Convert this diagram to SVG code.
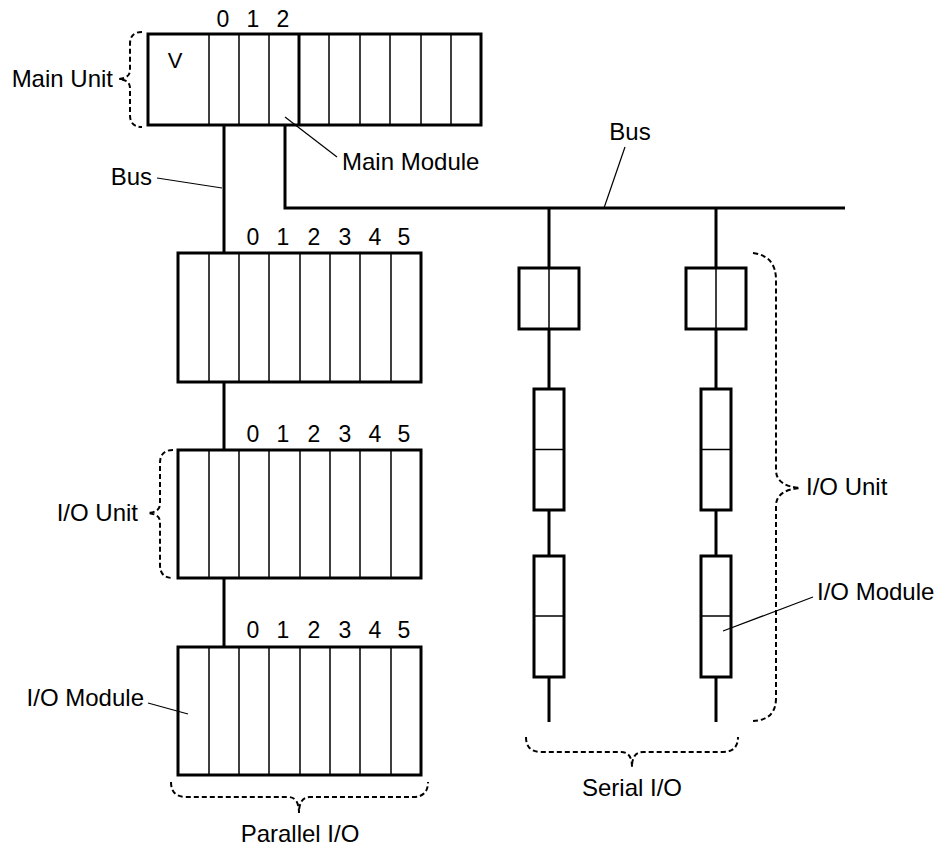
<svg xmlns="http://www.w3.org/2000/svg" width="941" height="850" viewBox="0 0 941 850">
<style>
.box{fill:#fff;stroke:#000;stroke-width:3}
.div{stroke:#000;stroke-width:1.5;fill:none}
.bus{stroke:#000;stroke-width:3;fill:none}
.lead{stroke:#000;stroke-width:1.2;fill:none}
.brace{stroke:#000;stroke-width:2;fill:none;stroke-dasharray:5,3}
text{font-family:"Liberation Sans",Arial,sans-serif;fill:#000}
.lbl{font-size:24px}
.num{font-size:23px;text-anchor:middle}
</style>
<rect width="941" height="850" fill="#fff"/>
<g id="connectors">
<path class="bus" d="M224,125 V253 M224,382 V450 M224,578 V647"/>
<path class="bus" d="M285,125 V208 H845"/>
<path class="bus" d="M549,208 V268 M549,329 V389 M549,510 V556 M549,677 V722"/>
<path class="bus" d="M716,208 V268 M716,329 V389 M716,510 V556 M716,677 V722"/>
</g>
<g id="main-unit">
<rect class="box" x="148" y="34" width="333" height="91"/>
<path class="div" d="M209,34V125M239,34V125M269,34V125M329,34V125M360,34V125M390,34V125M421,34V125M451,34V125"/>
<path class="bus" d="M299,34V125"/>
<text x="175" y="68" style="font-size:22px" text-anchor="middle">V</text>
<text class="num" x="223" y="27">0</text>
<text class="num" x="253" y="27">1</text>
<text class="num" x="283" y="27">2</text>
</g>
<g id="io-unit-1">
<rect class="box" x="178" y="253" width="243" height="129"/>
<path class="div" d="M209,253V382M239,253V382M269,253V382M300,253V382M330,253V382M360,253V382M391,253V382"/>
<text class="num" x="253" y="245">0</text><text class="num" x="283" y="245">1</text><text class="num" x="314" y="245">2</text><text class="num" x="345" y="245">3</text><text class="num" x="375" y="245">4</text><text class="num" x="404" y="245">5</text>
</g>
<g id="io-unit-2">
<rect class="box" x="178" y="450" width="243" height="128"/>
<path class="div" d="M209,450V578M239,450V578M269,450V578M300,450V578M330,450V578M360,450V578M391,450V578"/>
<text class="num" x="253" y="442">0</text><text class="num" x="283" y="442">1</text><text class="num" x="314" y="442">2</text><text class="num" x="345" y="442">3</text><text class="num" x="375" y="442">4</text><text class="num" x="404" y="442">5</text>
</g>
<g id="io-unit-3">
<rect class="box" x="178" y="647" width="243" height="128"/>
<path class="div" d="M209,647V775M239,647V775M269,647V775M300,647V775M330,647V775M360,647V775M391,647V775"/>
<text class="num" x="253" y="638">0</text><text class="num" x="283" y="638">1</text><text class="num" x="314" y="638">2</text><text class="num" x="345" y="638">3</text><text class="num" x="375" y="638">4</text><text class="num" x="404" y="638">5</text>
</g>
<g id="serial-1">
<rect class="box" x="519" y="268" width="60" height="61"/>
<path class="div" d="M549,268V329"/>
<rect class="box" x="534" y="389" width="30" height="121"/>
<path class="div" d="M534,449.5H564"/>
<rect class="box" x="534" y="556" width="30" height="121"/>
<path class="div" d="M534,616H564"/>
</g>
<g id="serial-2">
<rect class="box" x="686" y="268" width="60" height="61"/>
<path class="div" d="M716,268V329"/>
<rect class="box" x="701" y="389" width="30" height="121"/>
<path class="div" d="M701,449.5H731"/>
<rect class="box" x="701" y="556" width="30" height="121"/>
<path class="div" d="M701,616H731"/>
</g>
<g id="labels">
<path class="brace" d="M142,32 Q130,32 130,44 L130,70 Q130,78 119,79 Q130,80 130,88 L130,115 Q130,127 142,127"/>
<text class="lbl" x="113" y="87" text-anchor="end">Main Unit</text>
<path class="brace" d="M173,450 Q160,450 160,463 L160,504 Q160,512 148,513 Q160,514 160,522 L160,565 Q160,578 173,578"/>
<text class="lbl" x="138" y="521" text-anchor="end">I/O Unit</text>
<path class="brace" d="M753,253 Q776,256 776,280 L776,470 Q776,486 800,488 Q776,490 776,506 L776,698 Q776,720 753,721"/>
<text class="lbl" x="806" y="495">I/O Unit</text>
<path class="brace" d="M171,782 Q171,797 186,797 L288,797 Q299,797 299,813 Q299,797 310,797 L413,797 Q428,797 428,782"/>
<text class="lbl" x="300" y="842" text-anchor="middle">Parallel I/O</text>
<path class="brace" d="M526,737 Q526,752 541,752 L621,752 Q632,752 632,767 Q632,752 643,752 L723,752 Q738,752 738,737"/>
<text class="lbl" x="632" y="796" text-anchor="middle">Serial I/O</text>
<path class="lead" d="M285,117 L337,157"/>
<text class="lbl" x="342" y="170">Main Module</text>
<path class="lead" d="M157,178 L222,188"/>
<text class="lbl" x="152" y="185" text-anchor="end">Bus</text>
<path class="lead" d="M625,147 L604,208"/>
<text class="lbl" x="630" y="140" text-anchor="middle">Bus</text>
<path class="lead" d="M813,597 L723,631"/>
<text class="lbl" x="817" y="600">I/O Module</text>
<path class="lead" d="M148,703 L188,714"/>
<text class="lbl" x="144" y="706" text-anchor="end">I/O Module</text>
</g>
</svg>
